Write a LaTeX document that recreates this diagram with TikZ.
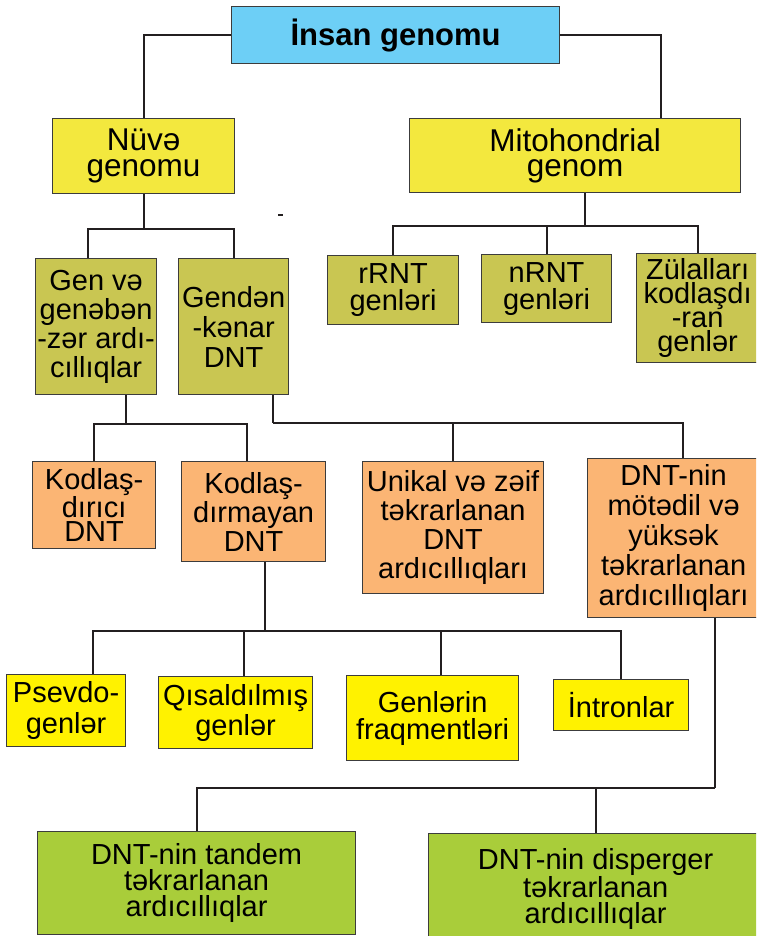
\documentclass[tikz,border=0pt]{standalone}
\usepackage{fontspec}
\setmainfont{Liberation Sans}
\definecolor{cblue}{HTML}{6DCFF6}
\definecolor{clemon}{HTML}{F3E83E}
\definecolor{colive}{HTML}{C9C652}
\definecolor{corange}{HTML}{FBB574}
\definecolor{cyellow}{HTML}{FFF200}
\definecolor{cgreen}{HTML}{A9CD3A}
\definecolor{cline}{HTML}{231F20}
\definecolor{cedge}{HTML}{3C3C3C}
\tikzset{
  box/.style={draw=cedge, fill=#1, line width=1.2pt, anchor=north west, align=center, inner sep=0pt, font=\fontsize{29}{29}\selectfont},
  box/.default=colive,
  size/.style 2 args={minimum width=#1pt, minimum height=#2pt},
  lines/.style={font=\fontsize{29}{#1}\selectfont},
  link/.style={draw=cline, line width=2pt},
}
\begin{document}
\begin{tikzpicture}[x=1pt, y=-1pt,
  big/.style={font=\fontsize{31.5}{#1}\selectfont}]
  \clip (0,0) rectangle (756,936);
  \node[box=cblue, size={328}{57}, font=\fontsize{31}{31}\selectfont\bfseries] (human) at (231,6) {İnsan genomu};
  \node[box=clemon, size={182}{75}, big=26] (nuve) at (52,118) {Nüvə\\genomu};
  \node[box=clemon, size={331}{74}, big=25] (mito) at (409,118) {Mitohondrial\\genom};
  \node[box, size={121}{136}] (genve) at (35,258) {Gen və\\genəbən\\-zər ardı-\\cıllıqlar};
  \node[box, size={110}{136}, lines=30] (genden) at (178,258) {Gendən\\-kənar\\DNT};
  \node[box, size={131}{69}, lines=27] (rrnt) at (327,255) {rRNT\\genləri};
  \node[box, size={130}{68}, lines=27] (nrnt) at (481,254) {nRNT\\genləri};
  \node[box, size={122}{109}, lines=24] (zulal) at (636,253) {Zülalları\\kodlaşdı\\-ran\\genlər};
  \node[box=corange, size={123}{87}, lines=24] (kodlas) at (32,461) {Kodlaş-\\dırıcı\\DNT};
  \node[box=corange, size={144}{100}] (kodlasd) at (181,461) {Kodlaş-\\dırmayan\\DNT};
  \node[box=corange, size={181}{132}] (unikal) at (362,461) {Unikal və zəif\\təkrarlanan\\DNT\\ardıcıllıqları};
  \node[box=corange, size={172}{159}, lines=30] (moted) at (587,458) {DNT-nin\\mötədil və\\yüksək\\təkrarlanan\\ardıcıllıqları};
  \node[box=cyellow, size={119}{72}, lines=31] (psevdo) at (6,674) {Psevdo-\\genlər};
  \node[box=cyellow, size={154}{72}, lines=30] (qisal) at (158,676) {Qısaldılmış\\genlər};
  \node[box=cyellow, size={172}{85}, lines=27] (genlerin) at (346,675) {Genlərin\\fraqmentləri};
  \node[box=cyellow, size={135}{51}] (intron) at (553,679) {İntronlar};
  \node[box=cgreen, size={318}{103}, lines=26] (tandem) at (37,831) {DNT-nin tandem\\təkrarlanan\\ardıcıllıqlar};
  \node[box=cgreen, size={334}{110}, lines=26] (disperger) at (428,833) {DNT-nin disperger\\təkrarlanan\\ardıcıllıqlar};
  \draw[link] (human.west) -| (nuve.north);
  \draw[link] (human.east) -| ([xshift=86pt]mito.north);
  \draw[link] (nuve.south) -- ++(0,35) coordinate (nb);
  \draw[link] ([xshift=-8pt]genve.north) |- (nb) -| (genden.north);
  \draw[link] ([xshift=10pt]mito.south) -- ++(0,33) coordinate (mb);
  \draw[link] (rrnt.north) |- (mb) -| (zulal.north);
  \draw[link] (nrnt.north) -- (nrnt.north |- mb);
  \draw[link] ([xshift=30pt]genve.south) -- ++(0,29) coordinate (gb);
  \draw[link] (kodlas.north) |- (gb) -| ([xshift=-7pt]kodlasd.north);
  \draw[link] ([xshift=39pt]genden.south) -- ++(0,28) coordinate (db);
  \draw[link] (db) -| ([xshift=9pt]moted.north);
  \draw[link] (unikal.north) -- (unikal.north |- db);
  \draw[link] ([xshift=11pt]kodlasd.south) -- ++(0,69) coordinate (kb);
  \draw[link] ([xshift=27pt]psevdo.north) |- (kb) -| (intron.north);
  \draw[link] ([xshift=8pt]qisal.north) -- ([xshift=8pt]qisal.north |- kb);
  \draw[link] ([xshift=8pt]genlerin.north) -- ([xshift=8pt]genlerin.north |- kb);
  \draw[link] ([xshift=41pt]moted.south) -- ++(0,170) coordinate (tb);
  \draw[link] (tandem.north) |- (tb);
  \draw[link] (disperger.north) -- (disperger.north |- tb);
  \draw[link] (278,215) -- (283,215);
\end{tikzpicture}
\end{document}
